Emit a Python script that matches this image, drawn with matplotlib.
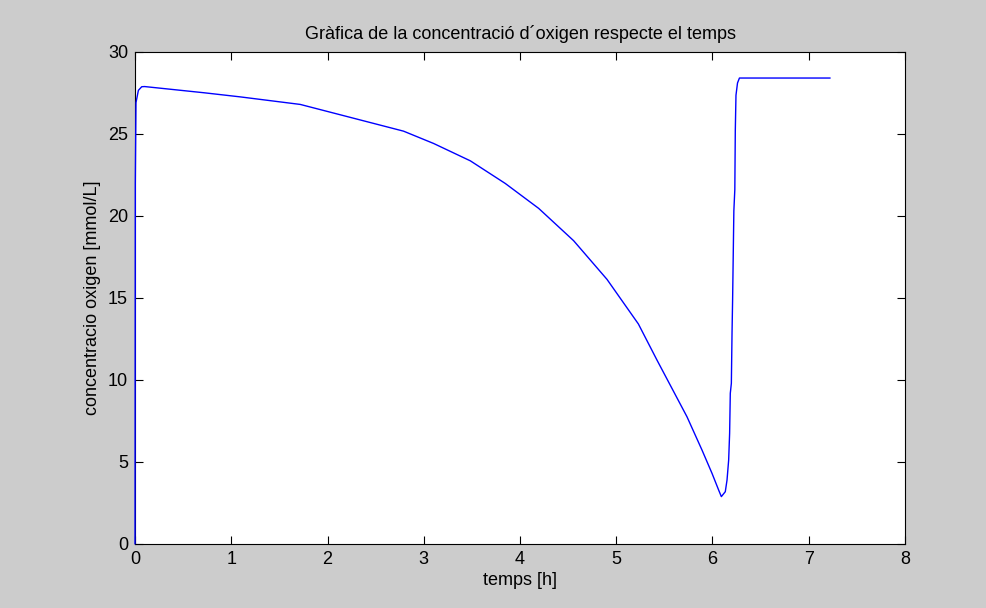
import matplotlib
matplotlib.use('Agg')
import matplotlib.pyplot as plt

# temps [h] i concentracio d'oxigen [mmol/L]
temps = [0, 0.003, 0.01, 0.035, 0.07, 0.1, 0.72, 1.094, 1.717, 2.237,
         2.79, 3.102, 3.484, 3.847, 4.194, 4.557, 4.904, 5.23, 5.423,
         5.735, 5.891, 5.995, 6.064, 6.092, 6.133, 6.151, 6.168, 6.178,
         6.185, 6.196, 6.203, 6.209, 6.222, 6.232, 6.237, 6.244, 6.26,
         6.28, 7.22]
oxigen = [0, 22.0, 26.9, 27.65, 27.87, 27.88, 27.5, 27.25, 26.79, 26.0,
          25.16, 24.41, 23.35, 21.97, 20.45, 18.48, 16.12, 13.4, 11.2,
          7.74, 5.71, 4.29, 3.27, 2.87, 3.17, 3.88, 5.1, 6.73,
          9.17, 9.78, 12.83, 14.86, 20.3, 21.6, 25.2, 27.35, 28.1,
          28.4, 28.4]

plt.rcParams['font.family'] = ['Liberation Sans', 'DejaVu Sans']

fig = plt.figure(figsize=(9.87, 6.08), dpi=100, facecolor='#cccccc')
ax = fig.add_axes([0.1368, 0.1058, 0.7801, 0.809])
# la corba va per sobre dels eixos, com a MATLAB
ax.plot(temps, oxigen, color='#0000ff', lw=1.0, zorder=3, clip_on=False)

ax.set_xlim(0, 8)
ax.set_ylim(0, 30)
ax.set_xticks(range(0, 9))
ax.set_yticks(range(0, 31, 5))
ax.tick_params(direction='in', top=True, right=True, length=6, width=0.8,
               labelsize=13, pad=5)
for s in ax.spines.values():
    s.set_linewidth(0.8)

ax.set_xlabel('temps [h]', fontsize=13, labelpad=3)
ax.set_ylabel('concentracio oxigen [mmol/L]', fontsize=13, labelpad=5)
ax.set_title('Gràfica de la concentració d´oxigen respecte el temps',
             fontsize=13, pad=9)

fig.savefig('out.png', dpi=100, facecolor=fig.get_facecolor())
